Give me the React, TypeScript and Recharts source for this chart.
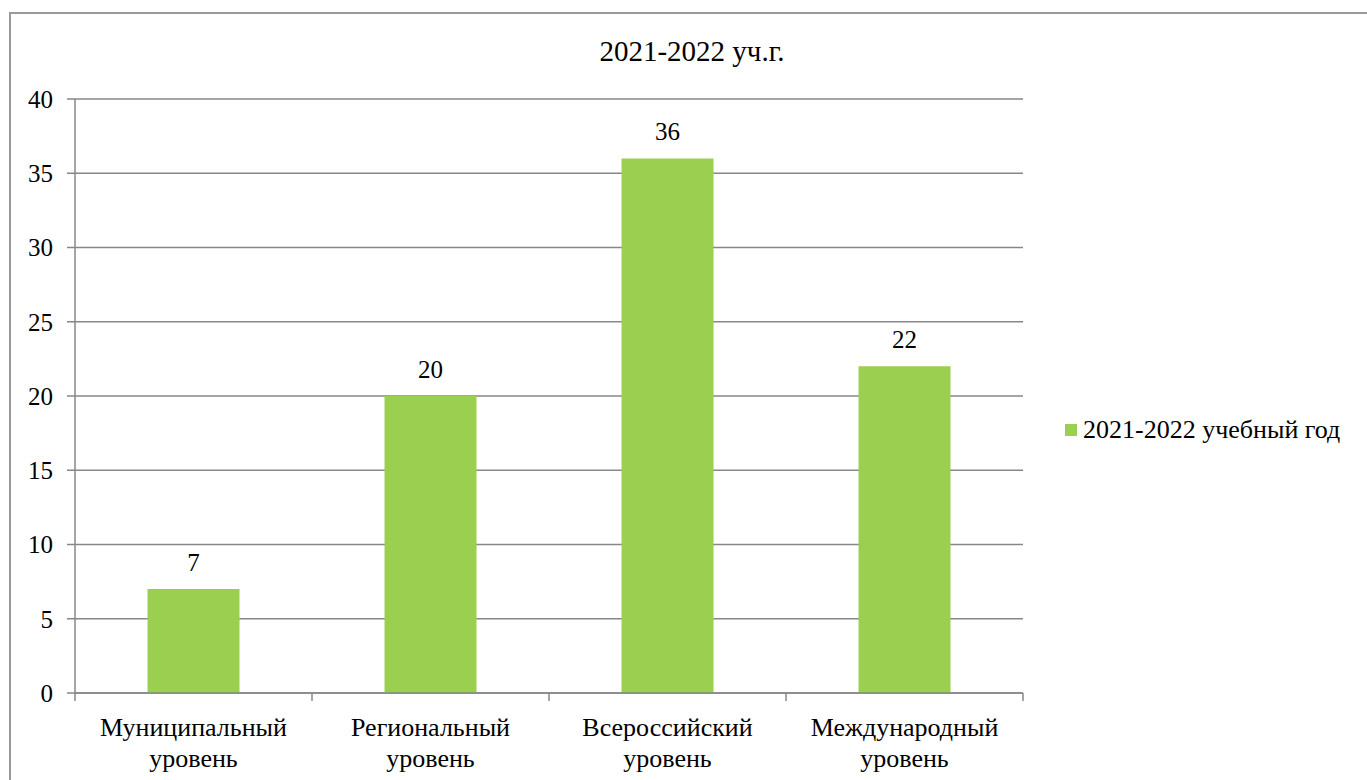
import { BarChart, Bar, XAxis, YAxis, CartesianGrid, LabelList } from "recharts";

const categories = ["Муниципальный уровень", "Региональный уровень", "Всероссийский уровень", "Международный уровень"];
const values = [7, 20, 36, 22];
const yTicks = [0, 5, 10, 15, 20, 25, 30, 35, 40];
const seriesName = "2021-2022 учебный год";
const title = "2021-2022 уч.г.";

const data = categories.map((name, i) => ({ name, value: values[i] }));

const FONT = "Liberation Serif, Tinos, Times New Roman, DejaVu Serif, serif";
const GRID = "#878787";
const GREEN = "#9BCF4F";

const CategoryTick = (props: any) => {
  const { x, y, payload, index } = props;
  const half = payload.offset || 118.5;
  const [line1, line2] = String(payload.value).split(" ");
  return (
    <g>
      <line x1={x - half} x2={x - half} y1={y} y2={y + 8} stroke={GRID} strokeWidth={1.5} />
      {index === categories.length - 1 && (
        <line x1={x + half} x2={x + half} y1={y} y2={y + 8} stroke={GRID} strokeWidth={1.5} />
      )}
      <text x={x} y={y} textAnchor="middle" fill="#000" fontSize={26} style={{ fontFamily: FONT }}>
        <tspan x={x} dy={43}>{line1}</tspan>
        <tspan x={x} dy={31}>{line2}</tspan>
      </text>
    </g>
  );
};

export default function App() {
  return (
    <div style={{ position: "absolute", left: 0, top: 0, width: 1367, height: 780, overflow: "hidden", background: "#fff" }}>
      <div
        style={{
          position: "absolute",
          left: 9,
          top: 12,
          width: 1400,
          height: 820,
          border: "2px solid #9a9a9a",
          boxSizing: "border-box",
        }}
      />
      <div
        style={{
          position: "absolute",
          left: 492,
          top: 37,
          width: 400,
          textAlign: "center",
          fontFamily: FONT,
          fontSize: 29,
          lineHeight: "29px",
          color: "#000",
        }}
      >
        {title}
      </div>
      <div style={{ position: "absolute", left: 0, top: 0, fontFamily: FONT }}>
        <BarChart
          width={1367}
          height={780}
          data={data}
          margin={{ top: 99, right: 344, left: 0, bottom: 0 }}
          barCategoryGap="30.6%"
          style={{ fontFamily: FONT }}
        >
          <CartesianGrid vertical={false} stroke={GRID} strokeWidth={1.5} />
          <XAxis
            dataKey="name"
            height={87}
            tickSize={0}
            tickMargin={0}
            tickLine={false}
            axisLine={{ stroke: GRID, strokeWidth: 1.5 }}
            tick={<CategoryTick />}
            interval={0}
          />
          <YAxis
            width={75}
            domain={[0, 40]}
            ticks={yTicks}
            interval={0}
            tickSize={8}
            tickMargin={14}
            tickLine={{ stroke: GRID, strokeWidth: 1.5 }}
            axisLine={{ stroke: GRID, strokeWidth: 1.5 }}
            tick={{ fill: "#000", fontSize: 25, style: { fontFamily: FONT } }}
          />
          <Bar dataKey="value" name={seriesName} fill={GREEN} isAnimationActive={false}>
            <LabelList dataKey="value" position="top" offset={18} fill="#000" fontSize={25} style={{ fontFamily: FONT }} />
          </Bar>
        </BarChart>
      </div>
      <div
        style={{
          position: "absolute",
          left: 1065,
          top: 417,
          display: "flex",
          alignItems: "center",
          fontFamily: FONT,
          fontSize: 26,
          lineHeight: "26px",
          color: "#000",
          whiteSpace: "nowrap",
        }}
      >
        <span style={{ display: "inline-block", width: 12, height: 12, background: GREEN, marginRight: 6 }} />
        <span>{seriesName}</span>
      </div>
    </div>
  );
}
